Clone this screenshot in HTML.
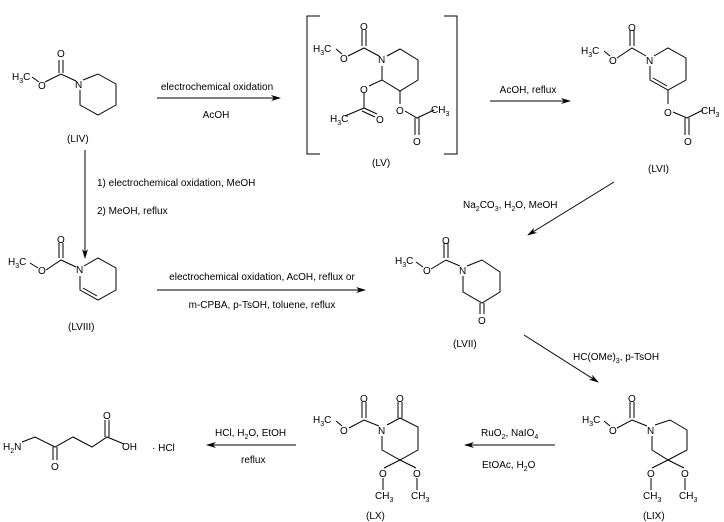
<!DOCTYPE html>
<html><head><meta charset="utf-8"><style>
html,body{margin:0;padding:0;background:#fff;}
svg{display:block;}
text{font-family:"Liberation Sans",Arial,sans-serif;font-size:10px;fill:#000;}
.s{font-size:7px;}
</style></head><body>
<svg width="724" height="522" viewBox="0 0 724 522" xmlns="http://www.w3.org/2000/svg">
<defs><marker id="a" markerWidth="10" markerHeight="6" refX="9" refY="3" orient="auto" markerUnits="userSpaceOnUse"><path d="M0,0 L10,3 L0,6 L3,3z" fill="#000"/></marker></defs>
<g stroke="#000" stroke-width="1" fill="none">
<!-- LIV -->
<path d="M32,77 L39,82 M45,82 L61,74 L76,81 M59,60 L59,73 M63,60 L63,73 M83,80 L98,74 L116,84 L116,105 L98,115 L80,105 L80,90"/>
<!-- arrows -->
<path d="M157,98 L280,98" marker-end="url(#a)"/>
<path d="M490,101 L570,101" marker-end="url(#a)"/>
<path d="M85,150 L85,258" marker-end="url(#a)"/>
<path d="M157,290 L365,290" marker-end="url(#a)"/>
<path d="M614,182 L528,235" marker-end="url(#a)"/>
<path d="M524,335 L598,382" marker-end="url(#a)"/>
<path d="M555,445 L465,445" marker-end="url(#a)"/>
<path d="M296,445 L207,445" marker-end="url(#a)"/>
<!-- LV bracket -->
<path d="M320,16 L307,16 L307,154 L320,154 M444,16 L457,16 L457,154 L444,154"/>
<!-- LV -->
<path d="M336,49 L342,54 M348,56 L364,48 L379,56 M362,30 L362,46 M366,30 L366,46 M387,56 L400,49 L418,60 L418,80 L400,91 L382,80 L382,66 M382,80 L369,86 M364,93 L364,108 L345,116 M364,108 L377,114 M362,111 L375,117 M400,91 L400,104 M405,111 L417,118 L434,110 M415,118 L415,135 M419,118 L419,135"/>
<!-- LVI -->
<path d="M604,51 L610,56 M617,58 L632,48 L646,56 M630,30 L630,46 M634,30 L634,46 M654,56 L668,48 L686,58 L686,80 L668,90 L650,80 L650,66 M653,78 L667,86 M668,90 L668,104 M673,112 L687,118 L703,110 M685,118 L685,135 M689,118 L689,135"/>
<!-- LVIII -->
<path d="M30,263 L38,268 M46,270 L61,260 L76,267 M59,243 L59,258 M63,243 L63,258 M84,266 L98,258 L116,268 L116,290 L98,300 L80,290 L80,276 M83,288 L97,296"/>
<!-- LVII -->
<path d="M416,262 L423,267 M431,269 L446,260 L460,266 M444,243 L444,258 M448,243 L448,258 M467,266 L482,260 L500,272 L500,292 L482,303 L463,292 L463,276 M480,303 L480,314 M484,303 L484,314"/>
<!-- LIX -->
<path d="M604,421 L610,426 M617,428 L632,420 L647,426 M630,402 L630,418 M634,402 L634,418 M655,425 L670,420 L687,430 L687,450 L668,460 L652,450 L652,436 M668,460 L652,468 M668,460 L684,468 M651,478 L651,490 M685,478 L685,490"/>
<!-- LX -->
<path d="M336,421 L342,426 M349,428 L364,420 L379,426 M362,402 L362,418 M366,402 L366,418 M387,425 L400,418 L418,427 L418,450 L400,460 L382,450 L382,436 M398,402 L398,418 M402,402 L402,418 M400,460 L384,468 M400,460 L416,468 M383,478 L383,490 M417,478 L417,490"/>
<!-- product -->
<path d="M22,442 L35,437 L55,447 L73,437 L92,447 L107,437 L124,444 M53,447 L53,460 M57,447 L57,460 M105,420 L105,437 M109,420 L109,437"/>
</g>
<!-- labels -->
<text x="12" y="80">H<tspan class="s" dy="3">3</tspan><tspan dy="-3">C</tspan></text>
<text x="38" y="89">O</text><text x="57" y="57">O</text><text x="75" y="88">N</text>
<text x="67" y="142">(LIV)</text>
<text x="217" y="90" text-anchor="middle">electrochemical oxidation</text>
<text x="216" y="118" text-anchor="middle">AcOH</text>
<text x="313" y="52">H<tspan class="s" dy="3">3</tspan><tspan dy="-3">C</tspan></text>
<text x="340" y="62">O</text><text x="360" y="30">O</text><text x="378" y="63">N</text>
<text x="360" y="93">O</text><text x="330" y="122">H<tspan class="s" dy="3">3</tspan><tspan dy="-3">C</tspan></text>
<text x="376" y="123">O</text><text x="396" y="114">O</text><text x="431" y="113">CH<tspan class="s" dy="3">3</tspan></text>
<text x="413" y="145">O</text>
<text x="372" y="166">(LV)</text>
<text x="528" y="93" text-anchor="middle">AcOH, reflux</text>
<text x="581" y="54">H<tspan class="s" dy="3">3</tspan><tspan dy="-3">C</tspan></text>
<text x="609" y="64">O</text><text x="628" y="31">O</text><text x="646" y="64">N</text>
<text x="664" y="116">O</text><text x="701" y="114">CH<tspan class="s" dy="3">3</tspan></text>
<text x="684" y="145">O</text>
<text x="648" y="172">(LVI)</text>
<text x="97" y="186">1) electrochemical oxidation, MeOH</text>
<text x="97" y="214">2) MeOH, reflux</text>
<text x="8" y="265">H<tspan class="s" dy="3">3</tspan><tspan dy="-3">C</tspan></text>
<text x="38" y="274">O</text><text x="57" y="243">O</text><text x="76" y="273">N</text>
<text x="68" y="330">(LVIII)</text>
<text x="262" y="280" text-anchor="middle">electrochemical oxidation, AcOH, reflux  or</text>
<text x="262" y="308" text-anchor="middle">m-CPBA, p-TsOH, toluene, reflux</text>
<text x="463" y="208">Na<tspan class="s" dy="3">2</tspan><tspan dy="-3">CO</tspan><tspan class="s" dy="3">3</tspan><tspan dy="-3">, H</tspan><tspan class="s" dy="3">2</tspan><tspan dy="-3">O, MeOH</tspan></text>
<text x="395" y="264">H<tspan class="s" dy="3">3</tspan><tspan dy="-3">C</tspan></text>
<text x="423" y="274">O</text><text x="442" y="244">O</text><text x="459" y="274">N</text>
<text x="478" y="324">O</text>
<text x="453" y="347">(LVII)</text>
<text x="573" y="360">HC(OMe)<tspan class="s" dy="3">3</tspan><tspan dy="-3">, p-TsOH</tspan></text>
<text x="582" y="423">H<tspan class="s" dy="3">3</tspan><tspan dy="-3">C</tspan></text>
<text x="609" y="434">O</text><text x="628" y="402">O</text><text x="647" y="434">N</text>
<text x="647" y="477">O</text><text x="681" y="477">O</text>
<text x="643" y="499">CH<tspan class="s" dy="3">3</tspan></text><text x="679" y="499">CH<tspan class="s" dy="3">3</tspan></text>
<text x="643" y="519">(LIX)</text>
<text x="481" y="436">RuO<tspan class="s" dy="3">2</tspan><tspan dy="-3">, NaIO</tspan><tspan class="s" dy="3">4</tspan></text>
<text x="482" y="468">EtOAc, H<tspan class="s" dy="3">2</tspan><tspan dy="-3">O</tspan></text>
<text x="313" y="423">H<tspan class="s" dy="3">3</tspan><tspan dy="-3">C</tspan></text>
<text x="340" y="434">O</text><text x="360" y="402">O</text><text x="396" y="402">O</text><text x="378" y="434">N</text>
<text x="379" y="477">O</text><text x="413" y="477">O</text>
<text x="375" y="499">CH<tspan class="s" dy="3">3</tspan></text><text x="411" y="499">CH<tspan class="s" dy="3">3</tspan></text>
<text x="366" y="519">(LX)</text>
<text x="215" y="436">HCl, H<tspan class="s" dy="3">2</tspan><tspan dy="-3">O, EtOH</tspan></text>
<text x="241" y="463">reflux</text>
<text x="3" y="450">H<tspan class="s" dy="3">2</tspan><tspan dy="-3">N</tspan></text>
<text x="51" y="470">O</text><text x="103" y="419">O</text><text x="122" y="450">OH</text>
<text x="152" y="451">· HCl</text>
</svg>
</body></html>
